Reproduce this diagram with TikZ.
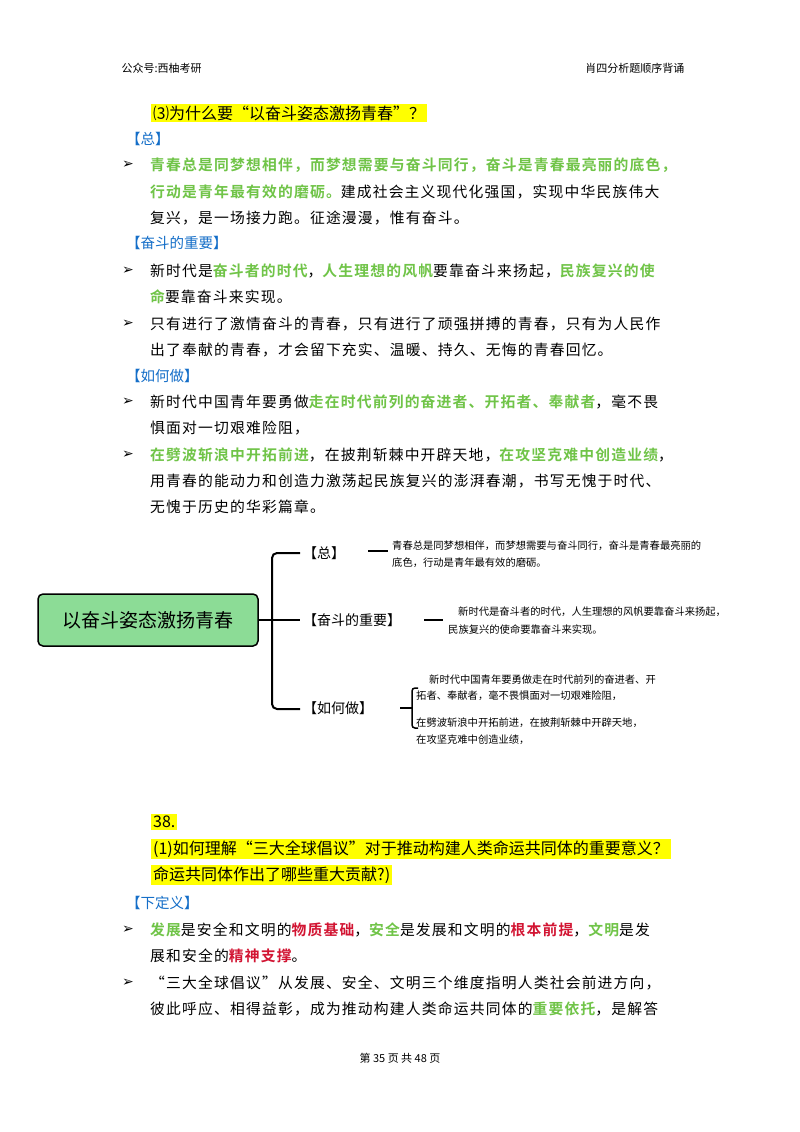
\documentclass[tikz,border=0pt]{standalone}
\usepackage{fontspec}
\setmainfont{Noto Sans CJK SC}
\newfontfamily\bodyf[LetterSpace=8,BoldFont={Noto Sans CJK SC Bold}]{Noto Sans CJK SC}
\newfontfamily\plainf{Noto Sans CJK SC}
\newfontfamily\symf{DejaVu Sans}
\definecolor{gr}{RGB}{112,196,72}
\definecolor{bl}{RGB}{20,110,200}
\definecolor{rd}{RGB}{210,20,50}
\definecolor{hl}{RGB}{255,255,0}
\definecolor{boxg}{RGB}{140,220,150}
\newcommand{\gt}[1]{\textcolor{gr}{\bfseries #1}}
\newcommand{\rt}[1]{\textcolor{rd}{\bfseries #1}}
\begin{document}
\begin{tikzpicture}[x=1pt,y=-1pt,
  ln/.style={anchor=west,inner sep=0pt,font=\bodyf\fontsize{14.8}{18}\selectfont},
  hd/.style={anchor=west,inner sep=0pt,text=bl,font=\plainf\fontsize{14.5}{17}\selectfont},
  bul/.style={anchor=west,inner sep=0pt,font=\symf\fontsize{14}{15}\selectfont},
  q/.style={anchor=west,inner sep=2pt,fill=hl,font=\plainf\fontsize{16}{18}\selectfont},
  sm/.style={anchor=west,inner sep=0pt,font=\plainf\fontsize{10.3}{12}\selectfont},
  br/.style={anchor=west,inner sep=0pt,font=\plainf\fontsize{14}{15}\selectfont},
  wire/.style={line width=2pt,black}]
\useasboundingbox (0,0) rectangle (800,1132);
\fill[white] (0,0) rectangle (800,1132);
% header/footer
\node[anchor=west,font=\plainf\fontsize{11}{13}\selectfont] (h1) at (118,68) {公众号:西柚考研};
\node[anchor=east,font=\plainf\fontsize{11}{13}\selectfont] (h2) at (688,68) {肖四分析题顺序背诵};
\node[font=\plainf\fontsize{11}{13}\selectfont] (ft) at (400,1058) {第 35 页 共 48 页};
% section 1
\node[q] (t1) at (151,113) {⑶为什么要“以奋斗姿态激扬青春”？};
\node[hd] (s1) at (126,139) {【总】};
\node[bul] (b1) at (122,165) {➢};
\node[ln] (l1) at (150,165) {\gt{青春总是同梦想相伴，而梦想需要与奋斗同行，奋斗是青春最亮丽的底色，}};
\node[ln] (l2) at (150,192) {\gt{行动是青年最有效的磨砺。}建成社会主义现代化强国，实现中华民族伟大};
\node[ln] (l3) at (150,218) {复兴，是一场接力跑。征途漫漫，惟有奋斗。};
\node[hd] (s2) at (126,243) {【奋斗的重要】};
\node[bul] (b2) at (122,271) {➢};
\node[ln] (l4) at (150,271) {新时代是\gt{奋斗者的时代}，\gt{人生理想的风帆}要靠奋斗来扬起，\gt{民族复兴的使}};
\node[ln] (l5) at (150,297) {\gt{命}要靠奋斗来实现。};
\node[bul] (b3) at (122,324) {➢};
\node[ln] (l6) at (150,324) {只有进行了激情奋斗的青春，只有进行了顽强拼搏的青春，只有为人民作};
\node[ln] (l7) at (150,350) {出了奉献的青春，才会留下充实、温暖、持久、无悔的青春回忆。};
\node[hd] (s3) at (126,376) {【如何做】};
\node[bul] (b4) at (122,402) {➢};
\node[ln] (l8) at (150,402) {新时代中国青年要勇做\gt{走在时代前列的奋进者、开拓者、奉献者}，毫不畏};
\node[ln] (l9) at (150,428) {惧面对一切艰难险阻，};
\node[bul] (b5) at (122,455) {➢};
\node[ln] (l10) at (150,455) {\gt{在劈波斩浪中开拓前进}，在披荆斩棘中开辟天地，\gt{在攻坚克难中创造业绩}，};
\node[ln] (l11) at (150,481) {用青春的能动力和创造力激荡起民族复兴的澎湃春潮，书写无愧于时代、};
\node[ln] (l12) at (150,507) {无愧于历史的华彩篇章。};
% mind map
\node[draw,line width=1.5pt,fill=boxg,rounded corners=5pt,minimum width=220pt,minimum height=52pt,font=\plainf\fontsize{19}{22}\selectfont] (root) at (148,620) {以奋斗姿态激扬青春};
\coordinate (jt) at (272,553);
\coordinate (jb) at (272,709);
\draw[wire,rounded corners=5pt] (300,553) -- (jt) -- (jb) -- (300,709);
\draw[wire] (root.east) -- (300,620);
\node[br] (n1) at (303,553) {【总】};
\node[br] (n2) at (303,620) {【奋斗的重要】};
\node[br] (n3) at (303,708) {【如何做】};
\coordinate (d1) at (368,551); \coordinate (d1e) at (388,551);
\draw[wire] (d1) -- (d1e);
\coordinate (d2) at (424,620); \coordinate (d2e) at (443,620);
\draw[wire] (d2) -- (d2e);
\coordinate (d3) at (400,708); \coordinate (d3e) at (412,708);
\draw[line width=1.5pt] (d3) -- (d3e);
\draw[line width=1.5pt,rounded corners=3pt] (418,688) -- (412,688) -- (412,728) -- (418,728);
\node[sm] (m1) at (392,546) {青春总是同梦想相伴，而梦想需要与奋斗同行，奋斗是青春最亮丽的};
\node[sm] (m2) at (392,563) {底色，行动是青年最有效的磨砺。};
\node[sm] (m3) at (458,612) {新时代是奋斗者的时代，人生理想的风帆要靠奋斗来扬起，};
\node[sm] (m4) at (448,630) {民族复兴的使命要靠奋斗来实现。};
\node[sm] (m5) at (429,680) {新时代中国青年要勇做走在时代前列的奋进者、开};
\node[sm] (m6) at (416,696) {拓者、奉献者，毫不畏惧面对一切艰难险阻，};
\node[sm] (m7) at (416,723) {在劈波斩浪中开拓前进，在披荆斩棘中开辟天地，};
\node[sm] (m8) at (416,740) {在攻坚克难中创造业绩，};
% section 38
\node[q] (q0) at (151,822) {38.};
\node[q] (q1) at (151,849) {(1)如何理解“三大全球倡议”对于推动构建人类命运共同体的重要意义？};
\node[q] (q2) at (151,875) {命运共同体作出了哪些重大贡献?)};
\node[hd] (s4) at (126,903) {【下定义】};
\node[bul] (b6) at (122,930) {➢};
\node[ln] (l13) at (150,930) {\gt{发展}是安全和文明的\rt{物质基础}，\gt{安全}是发展和文明的\rt{根本前提}，\gt{文明}是发};
\node[ln] (l14) at (150,956) {展和安全的\rt{精神支撑}。};
\node[bul] (b7) at (122,983) {➢};
\node[ln] (l15) at (150,983) {“三大全球倡议”从发展、安全、文明三个维度指明人类社会前进方向，};
\node[ln] (l16) at (150,1009) {彼此呼应、相得益彰，成为推动构建人类命运共同体的\gt{重要依托}，是解答};
\end{tikzpicture}
\end{document}
